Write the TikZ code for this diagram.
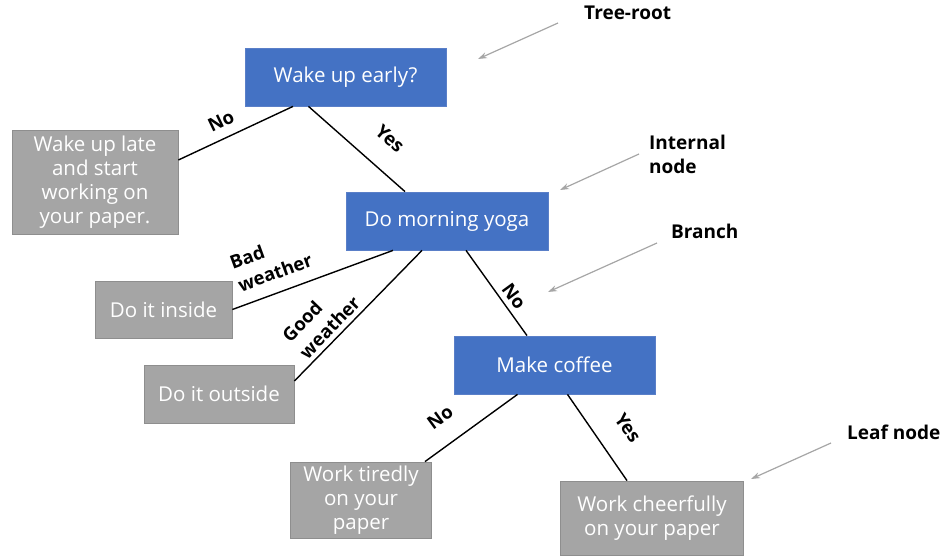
\documentclass[tikz,border=0pt]{standalone}
\usepackage{fontspec}
\setmainfont{Open Sans}
\usetikzlibrary{arrows.meta}

\definecolor{boxblue}{HTML}{4472C4}
\definecolor{boxblueline}{HTML}{5A7FC8}
\definecolor{boxgray}{HTML}{A5A5A5}
\definecolor{boxgrayline}{HTML}{8E8E8E}
\definecolor{pointgray}{HTML}{A6A6A6}

\begin{document}
\begin{tikzpicture}[x=1pt,y=-1pt,
  inner/.style={draw=boxblueline,fill=boxblue,text=white,line width=0.8pt,
    align=center,font=\fontsize{20.5}{24}\selectfont},
  leaf/.style={draw=boxgrayline,fill=boxgray,text=white,line width=0.8pt,
    align=center,font=\fontsize{20.5}{24}\selectfont},
  branch/.style={line width=1.4pt},
  tag/.style={font=\fontsize{18.5}{24}\selectfont\bfseries,inner sep=0pt},
  note/.style={font=\fontsize{19}{24}\selectfont\bfseries,inner sep=0pt,align=left,anchor=west},
  pointer/.style={draw=pointgray,line width=1.2pt,-{Stealth[length=9pt,width=6pt]}}]

\useasboundingbox (0,0) rectangle (943,556) ;

% boxes
\node[inner,minimum width=201pt,minimum height=58pt] (n_root) at (345.5,77) {Wake up early?} ;
\node[leaf,minimum width=166pt,minimum height=104pt] (n_late) at (95,182) {Wake up late\\and start\\working on\\your paper.} ;
\node[inner,minimum width=202pt,minimum height=58pt] (n_yoga) at (447,221) {Do morning yoga} ;
\node[leaf,minimum width=137pt,minimum height=57pt] (n_inside) at (163.5,309.5) {Do it inside} ;
\node[leaf,minimum width=150pt,minimum height=58pt] (n_outside) at (219,394) {Do it outside} ;
\node[inner,minimum width=201pt,minimum height=58pt] (n_coffee) at (554.5,365) {Make coffee} ;
\node[leaf,minimum width=141pt,minimum height=76pt] (n_tired) at (361,500) {Work tiredly\\on your\\paper} ;
\node[leaf,minimum width=183pt,minimum height=74pt] (n_cheer) at (652,518) {Work cheerfully\\on your paper} ;

% branches
\draw[branch] ([xshift=-52.5pt]n_root.south) -- ([yshift=22pt]n_late.east) ;
\draw[branch] ([xshift=-37pt]n_root.south) -- ([xshift=-42pt]n_yoga.north) ;
\draw[branch] ([xshift=-54pt]n_yoga.south) -- (n_inside.east) ;
\draw[branch] ([xshift=-25pt]n_yoga.south) -- ([yshift=13pt]n_outside.east) ;
\draw[branch] ([xshift=19pt]n_yoga.south) -- ([xshift=-27.5pt]n_coffee.north) ;
\draw[branch] ([xshift=-37pt]n_coffee.south) -- ([xshift=64pt]n_tired.north) ;
\draw[branch] ([xshift=13pt]n_coffee.south) -- ([xshift=-25pt]n_cheer.north) ;

% branch labels
\node[tag,rotate=25.5] (l_no_root) at (221,121) {No} ;
\node[tag,rotate=-41.5] (l_yes_root) at (390,139) {Yes} ;
\node[tag,rotate=20,align=left] (l_bad) at (271,261) {Bad\\weather} ;
\node[tag,rotate=46,align=left] (l_good) at (321,319) {Good\\weather} ;
\node[tag,rotate=-54] (l_no_yoga) at (514,296) {No} ;
\node[tag,rotate=36] (l_no_coffee) at (440,417) {No} ;
\node[tag,rotate=-55] (l_yes_coffee) at (628,428) {Yes} ;

% notes
\node[note] (t_root) at (584,13) {Tree-root} ;
\node[note] (t_internal) at (649,154) {Internal\\node} ;
\node[note] (t_branch) at (671,231) {Branch} ;
\node[note] (t_leaf) at (847,432) {Leaf node} ;

\coordinate (c_root) at (478,59) ;
\coordinate (c_internal) at (560,190) ;
\coordinate (c_branch) at (548,292) ;
\coordinate (c_leaf) at (751,479) ;

\draw[pointer] ([shift={(-26pt,-10pt)}]t_root.west) -- (c_root) ;
\draw[pointer] ([xshift=-10pt]t_internal.west) -- (c_internal) ;
\draw[pointer] ([shift={(-14pt,-12pt)}]t_branch.west) -- (c_branch) ;
\draw[pointer] ([shift={(-16pt,-11pt)}]t_leaf.west) -- (c_leaf) ;

\end{tikzpicture}
\end{document}
